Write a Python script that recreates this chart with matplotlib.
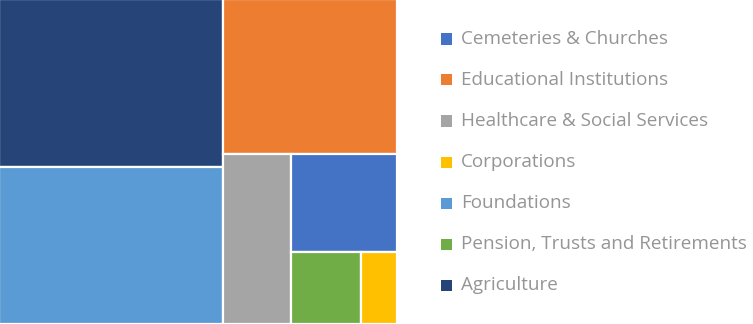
import matplotlib
matplotlib.use("Agg")
import matplotlib.pyplot as plt
from matplotlib.patches import Rectangle

# share of holdings by owner type (percent)
labels = ["Agriculture", "Foundations", "Educational Institutions",
          "Healthcare & Social Services", "Cemeteries & Churches",
          "Pension, Trusts and Retirements", "Corporations"]
values = [29.0, 27.2, 20.8, 9.0, 8.1, 3.9, 2.0]
colors = ["#264478", "#5B9BD5", "#ED7D31", "#A5A5A5", "#4472C4", "#70AD47", "#FFC000"]

# strips: (direction, item indices); "col" takes a slice from the left, "row" from the top
strips = [("col", [0, 1]), ("row", [2]), ("col", [3]), ("row", [4]), ("row", [5, 6])]

legend_order = [4, 2, 3, 6, 1, 5, 0]


def layout(vals, strips):
    x, y, w, h = 0.0, 0.0, 1.0, 1.0  # y measured from the top
    remaining = sum(vals)
    rects = {}
    for direction, idx in strips:
        s = sum(vals[i] for i in idx)
        frac = s / remaining
        if direction == "col":
            sw = w * frac
            yy = y
            for i in idx:
                ih = h * vals[i] / s
                rects[i] = (x, yy, sw, ih)
                yy += ih
            x += sw
            w -= sw
        else:
            sh = h * frac
            xx = x
            for i in idx:
                iw = w * vals[i] / s
                rects[i] = (xx, y, iw, sh)
                xx += iw
            y += sh
            h -= sh
        remaining -= s
    return rects


fig = plt.figure(figsize=(7.53, 3.24), dpi=100)
ax = fig.add_axes([0, 0, 397 / 753, 1])
ax.set_xlim(0.002, 1)
ax.set_ylim(1, 0.002)
ax.axis("off")

for i, (rx, ry, rw, rh) in layout(values, strips).items():
    ax.add_patch(Rectangle((rx, ry), rw, rh, facecolor=colors[i],
                           edgecolor="white", linewidth=1.6))

# legend on the right
sq = 11 / 753
for k, i in enumerate(legend_order):
    yc = 1 - (39 + k * 41) / 324
    fig.patches.append(Rectangle((441 / 753, yc - 5.5 / 324), sq, 11 / 324,
                                 facecolor=colors[i], edgecolor="none",
                                 transform=fig.transFigure, figure=fig))
    fig.text(461 / 753, yc, labels[i], va="center", ha="left",
             fontsize=13.6, color="#959595", family="Open Sans")

fig.savefig("out.png", dpi=100)
